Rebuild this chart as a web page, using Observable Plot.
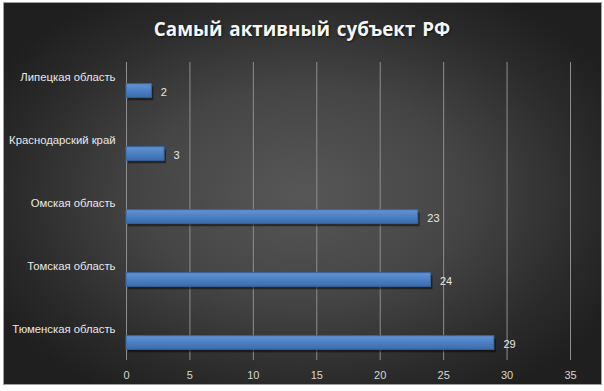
<!DOCTYPE html>
<html><head><meta charset="utf-8">
<script src="https://cdn.jsdelivr.net/npm/d3@7"></script>
<script src="https://cdn.jsdelivr.net/npm/@observablehq/plot@0.6"></script>
<style>
body{margin:0;background:#fff;width:604px;height:391px;position:relative;overflow:hidden}
#wrap{position:absolute;left:3px;top:2px;width:599px;height:383px;box-sizing:border-box;border:1px solid #a0a0a0;
background:radial-gradient(ellipse 60% 62% at 50% 50%, #575757 0%, #454545 45%, #2b2b2b 80%, #1f1f1f 100%);}
#title{position:absolute;left:0;top:16px;width:604px;text-align:center;font-family:"Open Sans",sans-serif;font-weight:bold;font-size:18.8px;line-height:26px;letter-spacing:0px;word-spacing:2px;color:#f6f6f6;text-shadow:1px 1px 2px rgba(0,0,0,0.6)}
#chart{position:absolute;left:0;top:0}
</style></head>
<body>
<div id="wrap"></div>
<div id="title">Самый активный субъект РФ</div>
<div id="chart"></div>
<script>
const categories = ["Липецкая область","Краснодарский край","Омская область","Томская область","Тюменская область"];
const values = [2,3,23,24,29];
const xTicks = [0,5,10,15,20,25,30,35];
const data = categories.map((c,i)=>({category:c, value:values[i]}));

const svg = Plot.plot({
  width:604, height:391,
  marginLeft:126, marginRight:34, marginTop:62, marginBottom:31,
  style:{background:"transparent", color:"#d6d6d6", fontFamily:"Liberation Sans, sans-serif", fontSize:"11px", overflow:"visible"},
  x:{domain:[0,35], ticks:7, tickSize:0, tickPadding:11, label:null},
  y:{domain:categories, range:[58,375], padding:0, axis:null},
  marks:[
    Plot.ruleX(xTicks,{stroke:"#8e8e8e", strokeWidth:1}),
    Plot.barX(data,{x:"value",y:"category",fill:"#000",fillOpacity:0.45,insetTop:24.7,insetBottom:24.7,dx:2,dy:3}),
    Plot.barX(data,{x:"value",y:"category",fill:"url(#barGrad)",stroke:"#3a67a2",strokeWidth:1,insetTop:24.7,insetBottom:24.7}),
    Plot.text(data,{x:()=>0,y:"category",text:"category",textAnchor:"end",dx:-11,dy:-14,fill:"#e8e8e8",fontSize:11.3}),
    Plot.text(data,{x:"value",y:"category",text:d=>String(d.value),textAnchor:"start",dx:9,dy:1.5,fill:"#e8e8e8"})
  ]
});
const defs = d3.select(svg).insert("defs",":first-child");
const g = defs.append("linearGradient").attr("id","barGrad").attr("x1",0).attr("y1",0).attr("x2",0).attr("y2",1);
g.append("stop").attr("offset","0%").attr("stop-color","#6494d3");
g.append("stop").attr("offset","50%").attr("stop-color","#4c80c4");
g.append("stop").attr("offset","100%").attr("stop-color","#3b6cad");
document.getElementById("chart").appendChild(svg);
</script>
</body></html>
